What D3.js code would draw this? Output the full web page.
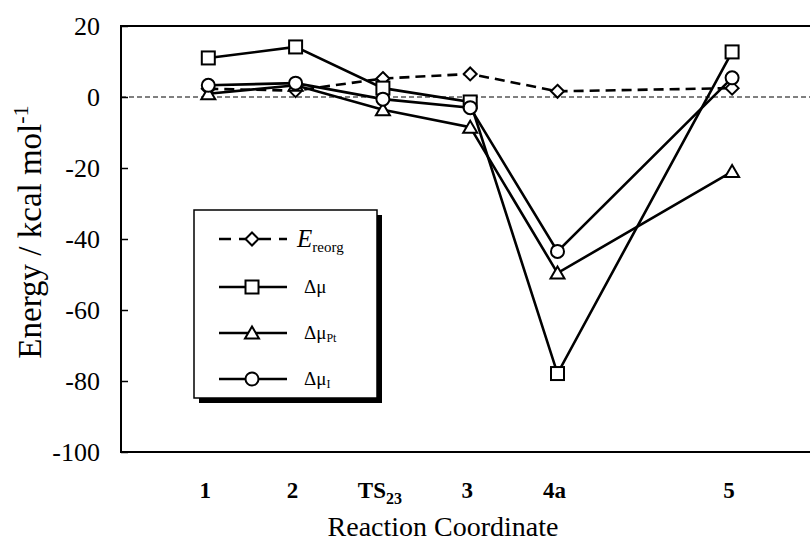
<!DOCTYPE html>
<html><head><meta charset="utf-8">
<script src="https://cdn.jsdelivr.net/npm/d3@7"></script>
<style>
html,body{margin:0;padding:0;background:#fff;}
svg{display:block;font-family:"Liberation Serif","Times New Roman",serif;}
</style></head>
<body>
<svg id="chart" width="810" height="544"></svg>
<script>
// ---- data ----
const categories = ["1", "2", "TS23", "3", "4a", "5"];
const catPos = [1, 2, 3, 4, 5, 7];
const eReorg = [2.3, 1.8, 5.2, 6.5, 1.6, 2.5];
const dMu = [11.0, 14.1, 2.5, -1.4, -77.9, 12.7];
const dMuPt = [0.9, 3.3, -3.6, -8.5, -49.6, -21.0];
const dMuI = [3.3, 3.9, -0.6, -3.0, -43.5, 5.4];
const yTicks = [20, 0, -20, -40, -60, -80, -100];

const svg = d3.select("#chart");
const L = 121, T = 26, B = 452;
const x = d3.scaleLinear().domain([0, 8]).range([L, L + 8 * 87.3]);
const y = d3.scaleLinear().domain([-100, 20]).range([B, T]);

// frame
svg.append("rect").attr("x", L).attr("y", T).attr("width", 820 - L).attr("height", B - T)
  .attr("fill", "none").attr("stroke", "#000").attr("stroke-width", 2);

// y ticks (inside)
const yAxis = d3.axisLeft(y).tickValues(yTicks).tickSize(-7).tickPadding(21).tickFormat(d => String(d));
const ya = svg.append("g").attr("transform", `translate(${L},0)`).call(yAxis)
  .attr("font-family", null).attr("font-size", null);
ya.select(".domain").remove();
ya.selectAll(".tick line").attr("stroke", "#000").attr("stroke-width", 1.5);
ya.selectAll(".tick text").attr("font-size", 26).attr("fill", "#000").attr("dy", "0.34em");

// zero line
svg.append("line").attr("x1", L).attr("x2", 810).attr("y1", y(0)).attr("y2", y(0))
  .attr("stroke", "#000").attr("stroke-width", 1).attr("stroke-dasharray", "5,3");

// x labels
const xl = svg.append("g");
categories.forEach((c, i) => {
  const t = xl.append("text").attr("x", x(catPos[i]) - 3).attr("y", 498).attr("text-anchor", "middle")
    .attr("font-size", 23).attr("font-weight", "bold");
  if (c === "TS23") {
    t.append("tspan").text("TS");
    t.append("tspan").attr("font-size", 16).attr("dy", 6).text("23");
  } else t.text(c);
});

// axis titles
svg.append("text").attr("x", 443).attr("y", 536).attr("text-anchor", "middle").attr("font-size", 28)
  .text("Reaction Coordinate");
const yt = svg.append("text").attr("transform", "translate(41,232) rotate(-90)").attr("text-anchor", "middle")
  .attr("font-size", 33);
yt.append("tspan").text("Energy / kcal mol");
yt.append("tspan").attr("font-size", 22).attr("dy", -13).text("-1");

// markers
function marker(g, type, cx, cy) {
  const s = 6.5;
  if (type === "square") g.append("rect").attr("x", cx - s).attr("y", cy - s).attr("width", 2 * s).attr("height", 2 * s);
  else if (type === "diamond") g.append("path").attr("d", `M${cx},${cy - s}L${cx + s},${cy}L${cx},${cy + s}L${cx - s},${cy}Z`);
  else if (type === "triangle") g.append("path").attr("d", `M${cx},${cy - s}L${cx + s + 0.5},${cy + s - 1}L${cx - s - 0.5},${cy + s - 1}Z`);
  else g.append("circle").attr("cx", cx).attr("cy", cy).attr("r", s);
}

const series = [
  { vals: eReorg, type: "diamond", dash: "10,6" },
  { vals: dMu, type: "square", dash: null },
  { vals: dMuPt, type: "triangle", dash: null },
  { vals: dMuI, type: "circle", dash: null },
];
const line = d3.line().x((d, i) => x(catPos[i])).y(d => y(d));
series.forEach(s => {
  svg.append("path").attr("d", line(s.vals)).attr("fill", "none").attr("stroke", "#000")
    .attr("stroke-width", 2.6).attr("stroke-dasharray", s.dash);
});
series.forEach(s => {
  const g = svg.append("g").attr("fill", "#fff").attr("stroke", "#000").attr("stroke-width", 2);
  s.vals.forEach((v, i) => marker(g, s.type, x(catPos[i]), y(v)));
});

// legend
const lg = svg.append("g");
lg.append("rect").attr("x", 199).attr("y", 215).attr("width", 183).attr("height", 188).attr("fill", "#000");
lg.append("rect").attr("x", 194).attr("y", 210).attr("width", 183).attr("height", 188)
  .attr("fill", "#fff").attr("stroke", "#000").attr("stroke-width", 1.5);
const rows = [239, 287, 333, 379];
series.forEach((s, i) => {
  lg.append("line").attr("x1", 219).attr("x2", 287).attr("y1", rows[i]).attr("y2", rows[i])
    .attr("stroke", "#000").attr("stroke-width", 2.6).attr("stroke-dasharray", s.dash ? "12,8" : null);
  const g = lg.append("g").attr("fill", "#fff").attr("stroke", "#000").attr("stroke-width", 2);
  marker(g, s.type, 252, rows[i]);
});
const e = lg.append("text").attr("x", 297).attr("y", rows[0] + 8).attr("font-size", 25);
e.append("tspan").attr("font-style", "italic").text("E");
e.append("tspan").attr("font-size", 15).attr("dy", 5).text("reorg");
lg.append("text").attr("x", 304).attr("y", rows[1] + 6).attr("font-size", 19).text("Δμ");
const pt = lg.append("text").attr("x", 304).attr("y", rows[2] + 6).attr("font-size", 19);
pt.append("tspan").text("Δμ");
pt.append("tspan").attr("font-size", 12).attr("dy", 3).text("Pt");
const mi = lg.append("text").attr("x", 304).attr("y", rows[3] + 6).attr("font-size", 19);
mi.append("tspan").text("Δμ");
mi.append("tspan").attr("font-size", 12).attr("dy", 3).text("I");
</script>
</body></html>
